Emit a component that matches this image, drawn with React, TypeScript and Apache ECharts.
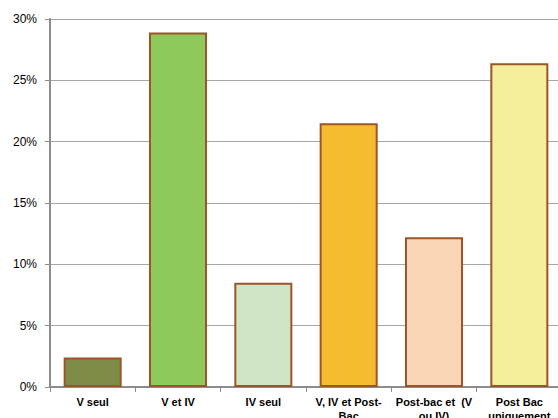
import React, { useEffect, useRef } from "react";
import * as echarts from "echarts";

const categories = [
  "V seul",
  "V et IV",
  "IV seul",
  "V, IV et Post-\nBac",
  "Post-bac et  (V\nou IV)",
  "Post Bac\nuniquement",
];
const values = [2.4, 28.9, 8.5, 21.5, 12.2, 26.4];
const barColors = ["#7D8C46", "#8FC85B", "#CFE5C6", "#F5BC2F", "#F9D5B5", "#F3EF9D"];
const yTicks = [0, 5, 10, 15, 20, 25, 30];

export default function App() {
  const ref = useRef<HTMLDivElement>(null);
  useEffect(() => {
    if (!ref.current) return;
    const chart = echarts.init(ref.current, undefined, { renderer: "svg" });
    chart.setOption({
      animation: false,
      backgroundColor: "#ffffff",
      grid: {
        left: 50,
        top: 19,
        width: 512,
        height: 368,
        containLabel: false,
        outerBoundsMode: "none",
      },
      xAxis: {
        type: "category",
        data: categories,
        boundaryGap: true,
        axisLine: { show: true, lineStyle: { color: "#8C8C8C", width: 2 } },
        axisTick: { show: true, alignWithLabel: false, length: 5, lineStyle: { color: "#8C8C8C", width: 1 } },
        axisLabel: {
          interval: 0,
          margin: 8,
          fontFamily: "Liberation Sans, Arial, sans-serif",
          fontSize: 11,
          fontWeight: "bold",
          color: "#000000",
          lineHeight: 14,
        },
      },
      yAxis: {
        type: "value",
        min: yTicks[0],
        max: yTicks[yTicks.length - 1],
        interval: 5,
        axisLine: { show: true, lineStyle: { color: "#8C8C8C", width: 2 } },
        axisTick: { show: true, length: 5, lineStyle: { color: "#8C8C8C", width: 1 } },
        axisLabel: {
          margin: 13,
          fontFamily: "Liberation Sans, Arial, sans-serif",
          fontSize: 12,
          color: "#000000",
          formatter: (v: number) => `${v}%`,
        },
        splitLine: { show: true, lineStyle: { color: "#A6A6A6", width: 1 } },
      },
      series: [
        {
          type: "bar",
          barCategoryGap: "32%",
          data: values.map((v, i) => ({
            value: v,
            itemStyle: { color: barColors[i], borderColor: "#9C5528", borderWidth: 2 },
          })),
        },
      ],
    });
    return () => chart.dispose();
  }, []);
  return (
    <div
      ref={ref}
      style={{ position: "fixed", left: 0, top: 0, width: 558, height: 418, overflow: "hidden" }}
    />
  );
}
